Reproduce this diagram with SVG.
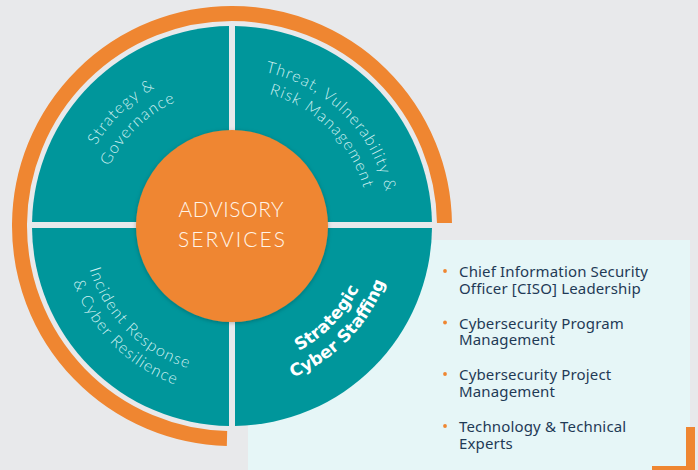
<svg xmlns="http://www.w3.org/2000/svg" width="698" height="470" viewBox="0 0 698 470">
  <style>
    .quad { fill: #00969B; }
    .orange { fill: #EF8631; }
    .qt { font-family: Lato, "Open Sans", sans-serif; font-weight: 300; font-size: 16px; letter-spacing: 1.2px; fill: #CFF0F1; }
    .qb { font-family: "DejaVu Sans", sans-serif; font-weight: bold; font-size: 17px; fill: #FFFFFF; }
    .ct { font-family: Lato, "Open Sans", sans-serif; font-weight: 300; font-size: 21px; fill: #FFF4E8; }
    .bt { font-family: "Noto Sans", "Liberation Sans", sans-serif; font-size: 15px; fill: #1F3A56; letter-spacing: 0.15px; }
    .bullet { fill: #EF8631; }
  </style>
  <defs>
    <filter id="shadow" x="-20%" y="-20%" width="140%" height="140%">
      <feDropShadow dx="0" dy="1" stdDeviation="2" flood-color="#000" flood-opacity="0.25"/>
    </filter>
    <path id="tl1" d="M74,226 A158,158 0 0 1 232,68"/>
    <path id="tl2" d="M95.5,226 A136.5,136.5 0 0 1 232,89.5"/>
    <path id="tr1" d="M232,68.5 A157.5,157.5 0 0 1 389.5,226"/>
    <path id="tr2" d="M232,89 A137,137 0 0 1 369,226"/>
    <path id="bl1" d="M83,226 A149,149 0 0 0 232,375"/>
    <path id="bl2" d="M63.5,226 A168.5,168.5 0 0 0 232,394.5"/>
    <path id="br1" d="M232,367.5 A141.5,141.5 0 0 0 373.5,226"/>
    <path id="br2" d="M232,389 A163,163 0 0 0 395,226"/>
  </defs>

  <rect width="698" height="470" fill="#E8E9EB"/>

  <g id="staffing-panel">
    <rect x="248" y="240" width="442" height="230" fill="#E6F6F7"/>
    <rect class="orange" x="686" y="427" width="9" height="43"/>
    <rect class="orange" x="652" y="466" width="43" height="4"/>
  </g>

  <g id="outer-arc">
    <path d="M227,438.44 A212.5,212.5 0 1 1 444.48,223" fill="none" stroke="#EF8631" stroke-width="15"/>
  </g>

  <g id="strategy-governance">
    <path class="quad" d="M229,222 L32.04,222 A200,200 0 0 1 229,26.02 Z"/>
    <text class="qt" text-anchor="middle"><textPath href="#tl1" startOffset="51%">Strategy &amp;</textPath></text>
    <text class="qt" text-anchor="middle"><textPath href="#tl2" startOffset="51%">Governance</textPath></text>
  </g>

  <g id="threat-risk">
    <path class="quad" d="M235,222 L235,26.02 A200,200 0 0 1 431.96,222 Z"/>
    <text class="qt" text-anchor="middle"><textPath href="#tr1" startOffset="50%">Threat, Vulnerability &amp;</textPath></text>
    <text class="qt" text-anchor="middle"><textPath href="#tr2" startOffset="50%">Risk Management</textPath></text>
  </g>

  <g id="incident-response">
    <path class="quad" d="M229,228 L229,425.98 A200,200 0 0 1 32.01,228 Z"/>
    <text class="qt" text-anchor="middle"><textPath href="#bl1" startOffset="50%">Incident Response</textPath></text>
    <text class="qt" text-anchor="middle"><textPath href="#bl2" startOffset="50%">&amp; Cyber Resilience</textPath></text>
  </g>

  <g id="strategic-staffing">
    <path class="quad" d="M235,228 L431.99,228 A200,200 0 0 1 235,425.98 Z"/>
    <text class="qb" text-anchor="middle"><textPath href="#br1" startOffset="51%">Strategic</textPath></text>
    <text class="qb" text-anchor="middle"><textPath href="#br2" startOffset="51%">Cyber Staffing</textPath></text>
  </g>

  <g id="advisory-services">
    <circle class="orange" cx="232" cy="226" r="96" filter="url(#shadow)"/>
    <text class="ct" x="231" y="217" text-anchor="middle" textLength="105">ADVISORY</text>
    <text class="ct" x="231.5" y="247" text-anchor="middle" textLength="107">SERVICES</text>
  </g>

  <g id="staffing-list">
    <circle class="bullet" cx="445" cy="271" r="1.9"/>
    <text class="bt" x="459" y="277">Chief Information Security</text>
    <text class="bt" x="459" y="293.5">Officer [CISO] Leadership</text>
    <circle class="bullet" cx="445" cy="322.5" r="1.9"/>
    <text class="bt" x="459" y="328.5">Cybersecurity Program</text>
    <text class="bt" x="459" y="345">Management</text>
    <circle class="bullet" cx="445" cy="374" r="1.9"/>
    <text class="bt" x="459" y="380">Cybersecurity Project</text>
    <text class="bt" x="459" y="396.5">Management</text>
    <circle class="bullet" cx="445" cy="426" r="1.9"/>
    <text class="bt" x="459" y="432">Technology &amp; Technical</text>
    <text class="bt" x="459" y="448.5">Experts</text>
  </g>
</svg>
